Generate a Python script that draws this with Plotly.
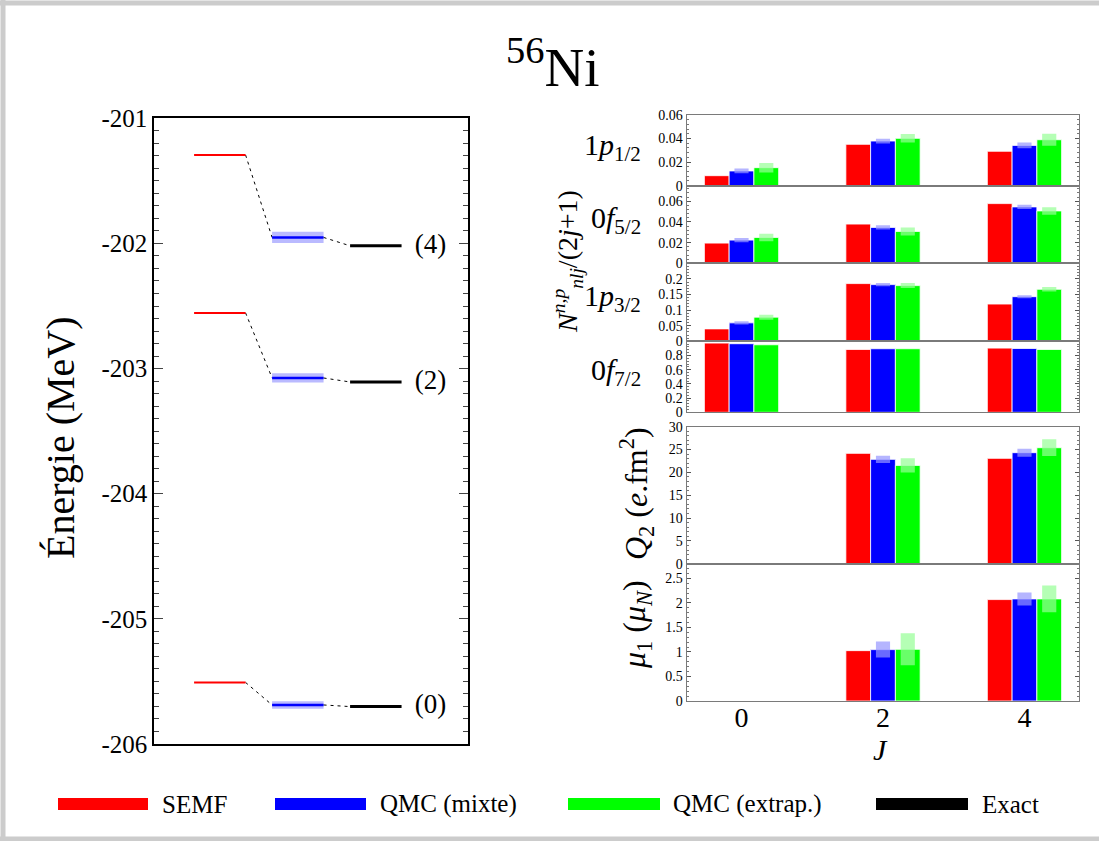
import plotly.graph_objects as go

# ---------------- data ----------------
level_labels = ["(4)", "(2)", "(0)"]
semf_E = [-201.293, -202.555, -205.508]
qmc_E = [-201.952, -203.075, -205.688]
qmc_E_err = [0.045, 0.037, 0.030]
exact_E = [-202.019, -203.107, -205.701]
e_ticks = [-206, -205, -204, -203, -202, -201]
e_ticklabels = ["-206", "-205", "-204", "-203", "-202", "-201"]

J = [0, 2, 4]
J_ticklabels = ["0", "2", "4"]

p12_semf = [0.0085, 0.0351, 0.0292]
p12_mixte = [0.0125, 0.0379, 0.0342]
p12_mixte_err = [0.0020, 0.0020, 0.0025]
p12_extrap = [0.0153, 0.0402, 0.0390]
p12_extrap_err = [0.0040, 0.0036, 0.0050]

f52_semf = [0.0195, 0.0379, 0.0577]
f52_mixte = [0.0224, 0.0347, 0.0545]
f52_mixte_err = [0.0020, 0.0021, 0.0020]
f52_extrap = [0.0250, 0.0308, 0.0506]
f52_extrap_err = [0.0036, 0.0039, 0.0036]

p32_semf = [0.0398, 0.1850, 0.1194]
p32_mixte = [0.0591, 0.1817, 0.1430]
p32_mixte_err = [0.0050, 0.0050, 0.0048]
p32_extrap = [0.0774, 0.1785, 0.1667]
p32_extrap_err = [0.0080, 0.0080, 0.0070]

f72_semf = [0.975, 0.885, 0.904]
f72_mixte = [0.966, 0.895, 0.899]
f72_extrap = [0.951, 0.895, 0.885]

q2_semf = [None, 24.16, 23.07]
q2_mixte = [None, 22.85, 24.31]
q2_mixte_err = [None, 0.78, 0.87]
q2_extrap = [None, 21.53, 25.40]
q2_extrap_err = [None, 1.57, 1.83]

mu1_semf = [None, 1.027, 2.068]
mu1_mixte = [None, 1.048, 2.082]
mu1_mixte_err = [None, 0.163, 0.133]
mu1_extrap = [None, 1.054, 2.082]
mu1_extrap_err = [None, 0.327, 0.272]

orbital_labels = ["1<i>p</i><sub>1/2</sub>", "0<i>f</i><sub>5/2</sub>",
                  "1<i>p</i><sub>3/2</sub>", "0<i>f</i><sub>7/2</sub>"]
series_names = ["SEMF", "QMC (mixte)", "QMC (extrap.)", "Exact"]

# ---------------- styles ----------------
RED, BLUE, GREEN, BLACK = "#ff0000", "#0000ff", "#00ff00", "#000000"
BAND_BLUE = "rgba(150,150,255,0.70)"
BAND_GREEN = "rgba(150,255,150,0.70)"
FONT = "Liberation Serif"
W, H = 1099, 841


def px(x):
    return x / W


def py(y):
    return 1 - y / H


fig = go.Figure()

# ---------------- left panel: energy levels ----------------
cols = [1, 2, 3]
hw = 0.33


def level_xy(col, values):
    xs, ys = [], []
    for v in values:
        xs += [col - hw, col + hw, None]
        ys += [v, v, None]
    return xs, ys


for v, e in zip(qmc_E, qmc_E_err):
    fig.add_trace(go.Scatter(
        x=[cols[1] - hw, cols[1] + hw, cols[1] + hw, cols[1] - hw, cols[1] - hw],
        y=[v - e, v - e, v + e, v + e, v - e], mode="lines", fill="toself",
        fillcolor="rgba(130,130,255,0.55)", line=dict(width=0),
        showlegend=False, hoverinfo="skip", xaxis="x", yaxis="y"))

cx, cy = [], []
for a, b, c in zip(semf_E, qmc_E, exact_E):
    cx += [cols[0] + hw, cols[1] - hw, None, cols[1] + hw, cols[2] - hw, None]
    cy += [a, b, None, b, c, None]
fig.add_trace(go.Scatter(x=cx, y=cy, mode="lines",
                         line=dict(color=BLACK, width=1, dash="3px,4px"),
                         showlegend=False, hoverinfo="skip", xaxis="x", yaxis="y"))

for col, vals, color, width in [(cols[0], semf_E, RED, 2),
                                 (cols[1], qmc_E, BLUE, 2.5),
                                 (cols[2], exact_E, BLACK, 3)]:
    xs, ys = level_xy(col, vals)
    fig.add_trace(go.Scatter(x=xs, y=ys, mode="lines",
                             line=dict(color=color, width=width),
                             showlegend=False, xaxis="x", yaxis="y"))

fig.add_trace(go.Scatter(x=[3.70] * 3, y=exact_E, mode="text", text=level_labels,
                         textposition="middle center",
                         textfont=dict(family=FONT, size=27, color=BLACK),
                         showlegend=False, hoverinfo="skip", xaxis="x", yaxis="y"))

# ---------------- right panels: bars ----------------
panels = [
    (p12_semf, p12_mixte, p12_mixte_err, p12_extrap, p12_extrap_err),
    (f52_semf, f52_mixte, f52_mixte_err, f52_extrap, f52_extrap_err),
    (p32_semf, p32_mixte, p32_mixte_err, p32_extrap, p32_extrap_err),
    (f72_semf, f72_mixte, None, f72_extrap, None),
    (q2_semf, q2_mixte, q2_mixte_err, q2_extrap, q2_extrap_err),
    (mu1_semf, mu1_mixte, mu1_mixte_err, mu1_extrap, mu1_extrap_err),
]

BW = 0.35
for i, (s, m, me, e, ee) in enumerate(panels):
    xa = "x%d" % (i + 2)
    ya = "y%d" % (i + 2)
    for vals, color, off in [(s, RED, -1.5 * BW), (m, BLUE, -0.5 * BW), (e, GREEN, 0.5 * BW)]:
        fig.add_trace(go.Bar(x=J, y=vals, width=BW, offset=off,
                             marker=dict(color=color, line=dict(color="white", width=0.8)),
                             showlegend=False, xaxis=xa, yaxis=ya))
    for vals, errs, color, center in [(m, me, BAND_BLUE, 0.0), (e, ee, BAND_GREEN, BW)]:
        if errs is None:
            continue
        base = [None if v is None else v - d for v, d in zip(vals, errs)]
        hgt = [None if v is None else 2 * d for v, d in zip(vals, errs)]
        fig.add_trace(go.Bar(x=J, y=hgt, base=base, width=0.2, offset=center - 0.1,
                             marker=dict(color=color, line=dict(width=0)),
                             showlegend=False, xaxis=xa, yaxis=ya))

# ---------------- axes ----------------
layout = dict(
    width=W, height=H, autosize=False,
    margin=dict(l=0, r=0, t=0, b=0, pad=0, autoexpand=False),
    paper_bgcolor="white", plot_bgcolor="white", barmode="overlay",
    font=dict(family=FONT, color="black"), showlegend=False,
)

layout["xaxis"] = dict(domain=[px(154), px(467.7)], range=[0.156, 4.178], automargin=False,
                       showticklabels=False, ticks="", showgrid=False, zeroline=False,
                       showline=True, mirror=True, linecolor="black", linewidth=1.5)
layout["yaxis"] = dict(domain=[py(744), py(118.3)], range=[-206, -201], automargin=False,
                       tickmode="array", tickvals=e_ticks, ticktext=e_ticklabels,
                       ticks="inside", ticklen=9, tickwidth=1.2, mirror="allticks",
                       minor=dict(ticks="inside", ticklen=5, tickmode="linear",
                                  tick0=-206, dtick=0.1, showgrid=False),
                       showgrid=False, zeroline=False, showline=True,
                       linecolor="black", linewidth=1.5,
                       tickfont=dict(size=25, family=FONT))

panel_px = [(115, 185.7), (185.7, 263.3), (263.3, 341.3), (341.3, 412.3),
            (426.7, 563.7), (563.7, 701)]
panel_ranges = [[0, 0.06], [0, 0.075], [0, 0.25], [0, 1.0], [0, 30], [0, 2.8]]
panel_ticks = [[0, 0.02, 0.04, 0.06], [0, 0.02, 0.04, 0.06],
               [0, 0.05, 0.1, 0.15, 0.2], [0, 0.2, 0.4, 0.6, 0.8],
               [0, 5, 10, 15, 20, 25, 30], [0, 0.5, 1, 1.5, 2, 2.5]]
panel_minor = [0.004, 0.004, 0.01, 0.04, 1, 0.1]

for i in range(6):
    top, bot = panel_px[i]
    last = (i == 5)
    layout["xaxis%d" % (i + 2)] = dict(
        domain=[px(686.7), px(1079.3)], range=[-0.775, 4.775], anchor="y%d" % (i + 2),
        automargin=False, tickmode="array", tickvals=J, ticktext=J_ticklabels,
        showticklabels=last, ticks="", showgrid=False, zeroline=False,
        showline=True, mirror=True, linecolor="#7a7a7a", linewidth=1.2,
        tickfont=dict(size=28, family=FONT))
    layout["yaxis%d" % (i + 2)] = dict(
        domain=[py(bot), py(top)], range=panel_ranges[i], anchor="x%d" % (i + 2),
        automargin=False, tickmode="array", tickvals=panel_ticks[i],
        ticks="inside", ticklen=4, tickcolor="#555", mirror="allticks",
        minor=dict(ticks="inside", ticklen=2, tickcolor="#777", tickmode="linear",
                   tick0=0, dtick=panel_minor[i], showgrid=False),
        showgrid=False, zeroline=False, showline=True, linecolor="#7a7a7a",
        linewidth=1.2, tickfont=dict(size=14, family=FONT))

fig.update_layout(**layout)

# bring the J tick labels a little closer to the axis, as in the reference
try:
    fig.update_layout(xaxis7=dict(ticklabelstandoff=-9))
except Exception:
    pass

# ---------------- texts ----------------
ann = []


def add_text(x, y, text, size, angle=0, xanchor="center"):
    ann.append(dict(x=px(x), y=py(y), xref="paper", yref="paper", text=text,
                    showarrow=False, textangle=angle,
                    font=dict(size=size, family=FONT, color="black"),
                    xanchor=xanchor, yanchor="middle"))


add_text(553, 64, "<sup>56</sup>Ni", 55)
add_text(60, 438, "Énergie (MeV)", 40, angle=-90)
add_text(567, 262, "<i>N</i><sup><i>n,p</i></sup><sub><i>nlj</i></sub>/(2<i>j</i>+1)", 28, angle=-90)
for lab, yc in zip(orbital_labels, [147, 220, 298, 372]):
    add_text(643, yc, lab, 30, xanchor="right")
add_text(636, 494, "<i>Q</i><sub>2</sub> (<i>e</i>.fm<sup>2</sup>)", 32, angle=-90)
add_text(636, 625, "<i>μ</i><sub>1</sub> (<i>μ</i><sub><i>N</i></sub>)", 32, angle=-90)
add_text(880, 749, "<i>J</i>", 30)

# legend (custom)
shapes = []
leg_colors = [RED, BLUE, GREEN, BLACK]
leg_swatch = [(58, 148), (275, 366), (568, 660), (876, 968)]
leg_text_x = [160, 378, 671, 980]
for name, c, (a, b), tx in zip(series_names, leg_colors, leg_swatch, leg_text_x):
    shapes.append(dict(type="rect", xref="paper", yref="paper", x0=px(a), x1=px(b),
                       y0=py(810), y1=py(798), fillcolor=c, line=dict(width=0)))
    add_text(tx, 804, name, 25, xanchor="left")

# page border
for s in [dict(x0=0, x1=W, y0=3, y1=3), dict(x0=3, x1=3, y0=0, y1=H),
          dict(x0=0, x1=W, y0=839, y1=839)]:
    shapes.append(dict(type="line", xref="paper", yref="paper",
                       x0=px(s["x0"]), x1=px(s["x1"]), y0=py(s["y0"]), y1=py(s["y1"]),
                       line=dict(color="#cccccc", width=5)))

fig.update_layout(annotations=ann, shapes=shapes)

fig.write_html(
    "out.html",
    config={"displayModeBar": False},
    post_script=("var g=document.getElementById('{plot_id}');"
                 "g.style.position='absolute';g.style.top='0px';g.style.left='0px';"
                 "document.body.style.margin='0';document.body.style.padding='0';"
                 "document.documentElement.style.overflow='hidden';"
                 "document.body.style.overflow='hidden';"))
